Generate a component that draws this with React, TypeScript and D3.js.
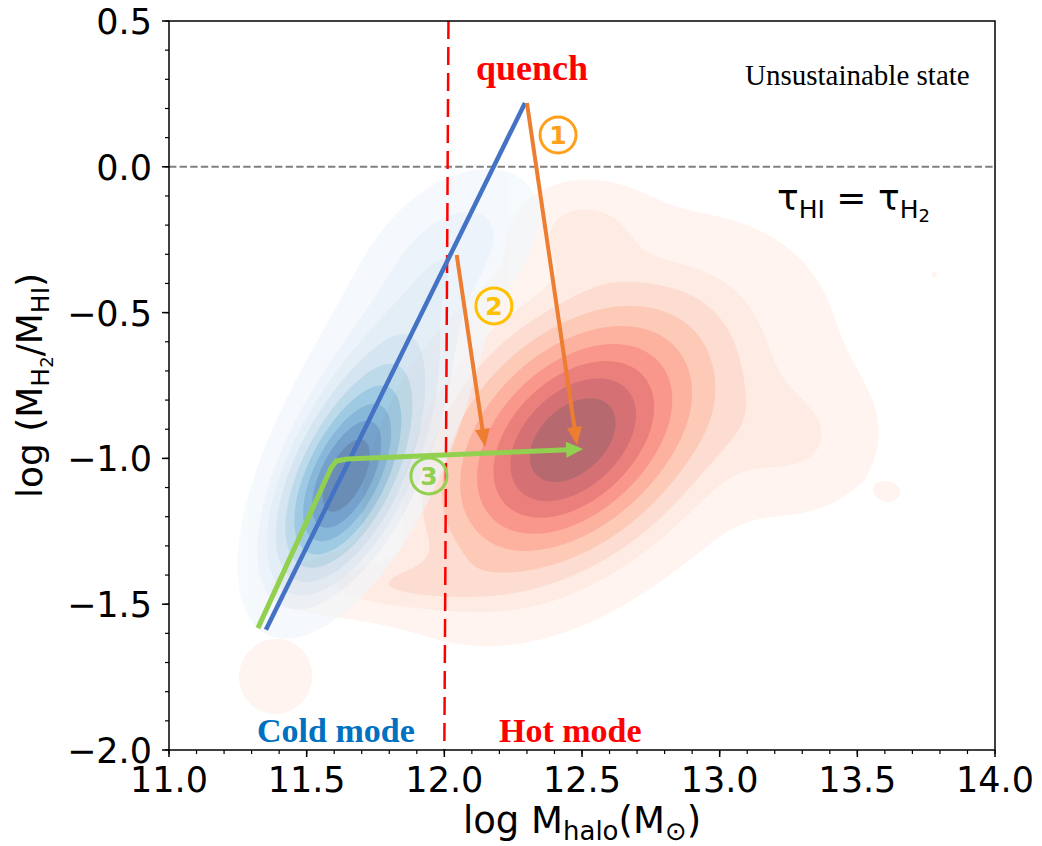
import { useEffect, useRef } from 'react'
import * as d3 from 'd3'

// density blobs: [x, y, sigmaX, sigmaY, rho, weight]
const coldBlobs = [
  [11.63, -1.09, 0.15, 0.21, 0.55, 0.56],
  [11.77, -0.78, 0.2, 0.3, 0.6, 0.32],
  [12.06, -0.26, 0.19, 0.16, 0.4, 0.08],
]
const hotBlobs = [
  [12.45, -0.955, 0.29, 0.27, 0.4, 0.72],
  [12.7, -0.74, 0.43, 0.32, 0.25, 0.2],
  [13.29, -0.94, 0.18, 0.15, 0.0, 0.03],
  [11.8, -1.434, 0.25, 0.065, 0.0, 0.025],
  [12.5, -0.217, 0.145, 0.1, 0.0, 0.02],
  [11.385, -1.75, 0.14, 0.135, 0.0, 0.012],
  [13.619, -1.119, 0.045, 0.035, 0.0, 0.0007],
  [13.78, -0.37, 0.015, 0.015, 0.0, 0.0001],
]
// iso-proportion levels (seaborn default: 10 levels, thresh 0.05)
const isoProps = [0.05, 0.1556, 0.2611, 0.3667, 0.4722, 0.5778, 0.6833, 0.7889, 0.8944, 1]

const xTicks = [11.0, 11.5, 12.0, 12.5, 13.0, 13.5, 14.0]
const yTicks = [-2.0, -1.5, -1.0, -0.5, 0.0, 0.5]

const quenchLine = [[11.352, -1.588], [12.293, 0.219]]
const greenTrack = [[11.323, -1.582], [11.5885, -1.033], [11.607, -1.009], [11.647, -1.002], [12.504, -0.968]]
const arrowOne = [[12.3, 0.219], [12.482, -0.954]]
const arrowTwo = [[12.045, -0.3025], [12.148, -0.961]]
const steps = [
  { label: '1', x: 12.413, y: 0.109, color: '#FF9F1A' },
  { label: '2', x: 12.18, y: -0.477, color: '#FFC000' },
  { label: '3', x: 11.944, y: -1.06, color: '#92D050' },
]

const SANS = 'DejaVu Sans, sans-serif'
const SERIF = 'Liberation Serif, Times New Roman, serif'

export default function App() {
  const svgRef = useRef<SVGSVGElement>(null)

  useEffect(() => {
    if (!svgRef.current) return
    const svg = d3.select(svgRef.current)
    svg.selectAll('*').remove()

    const left = 169
    const right = 995
    const top = 21
    const bottom = 750

    const x = d3.scaleLinear().domain([11, 14]).range([left, right])
    const y = d3.scaleLinear().domain([-2, 0.5]).range([bottom, top])

    svg.append('rect').attr('width', 1042).attr('height', 846).attr('fill', '#fff')

    // KDE-like filled contours
    const step = 2
    const nx = Math.ceil((right - left) / step)
    const ny = Math.ceil((bottom - top) / step)

    const density = (blobs: number[][], px: number, py: number) => {
      let s = 0
      for (const [mx, my, sx, sy, r, w] of blobs) {
        const u = (px - mx) / sx
        const v = (py - my) / sy
        const q = (u * u - 2 * r * u * v + v * v) / (1 - r * r)
        s += (w * Math.exp(-q / 2)) / (2 * Math.PI * sx * sy * Math.sqrt(1 - r * r))
      }
      return s
    }

    const path = d3.geoPath(d3.geoIdentity().scale(step).translate([left, top]))

    const drawKde = (blobs: number[][], scheme: readonly string[]) => {
      const values = new Float64Array(nx * ny)
      for (let j = 0; j < ny; j++) {
        const py = y.invert(top + (j + 0.5) * step)
        for (let i = 0; i < nx; i++) {
          const px = x.invert(left + (i + 0.5) * step)
          values[i + j * nx] = density(blobs, px, py)
        }
      }
      const sorted = Array.from(values).sort((a, b) => b - a)
      const cum = d3.cumsum(sorted)
      const total = cum[cum.length - 1]
      const levels = isoProps.map((p) => sorted[Math.min(sorted.length - 1, d3.bisectLeft(cum, (1 - p) * total))])

      const cmap = d3
        .scaleLinear<string>()
        .domain(d3.range(9).map((i) => i / 8))
        .range(scheme as string[])
      const lo = levels[0]
      const hi = levels[levels.length - 1]

      const contours = d3.contours().size([nx, ny]).thresholds(levels.slice(0, -1))(Array.from(values))
      const g = svg.append('g').attr('opacity', 0.6)
      contours.forEach((c, i) => {
        const mid = (levels[i] + levels[i + 1]) / 2
        g.append('path')
          .attr('d', path(c as any))
          .attr('fill', cmap((mid - lo) / (hi - lo)))
      })
    }

    drawKde(hotBlobs, d3.schemeReds[9])
    drawKde(coldBlobs, d3.schemeBlues[9])

    // reference lines
    svg.append('line')
      .attr('x1', left).attr('x2', right)
      .attr('y1', y(0)).attr('y2', y(0))
      .attr('stroke', '#808080').attr('stroke-width', 2)
      .attr('stroke-dasharray', '7.4 3.2')

    svg.append('line')
      .attr('x1', x(12.015)).attr('x2', x(12.0))
      .attr('y1', top).attr('y2', bottom)
      .attr('stroke', '#FF0000').attr('stroke-width', 2.5)
      .attr('stroke-dasharray', '18 8')

    const line = d3.line<number[]>().x((d) => x(d[0])).y((d) => y(d[1]))

    svg.append('path')
      .attr('d', line(quenchLine))
      .attr('fill', 'none').attr('stroke', '#4472C4').attr('stroke-width', 4.5)

    const arrow = (pts: number[][], color: string, width: number, headLen: number, headW: number) => {
      const p = pts.map((d) => [x(d[0]), y(d[1])])
      const [tx, ty] = p[p.length - 1]
      const [sx, sy] = p[p.length - 2]
      const len = Math.hypot(tx - sx, ty - sy)
      const ux = (tx - sx) / len
      const uy = (ty - sy) / len
      const bx = tx - ux * headLen
      const by = ty - uy * headLen
      const shaft = p.slice(0, -1).concat([[bx + ux * 2, by + uy * 2]])
      svg.append('path')
        .attr('d', d3.line()(shaft as [number, number][]))
        .attr('fill', 'none').attr('stroke', color).attr('stroke-width', width)
        .attr('stroke-linejoin', 'round')
      svg.append('path')
        .attr('d', `M${tx},${ty}L${bx - uy * headW / 2},${by + ux * headW / 2}L${bx + uy * headW / 2},${by - ux * headW / 2}Z`)
        .attr('fill', color)
    }

    arrow(arrowOne, '#ED7D31', 4, 18, 15)
    arrow(arrowTwo, '#ED7D31', 4, 18, 15)
    arrow(greenTrack, '#92D050', 5, 17, 16)

    steps.forEach((s) => {
      svg.append('circle')
        .attr('cx', x(s.x)).attr('cy', y(s.y)).attr('r', 18)
        .attr('fill', 'none').attr('stroke', s.color).attr('stroke-width', 3)
      svg.append('text')
        .attr('x', x(s.x)).attr('y', y(s.y) + 9)
        .attr('text-anchor', 'middle')
        .attr('font-family', SANS).attr('font-weight', 'bold').attr('font-size', 25)
        .attr('fill', s.color)
        .text(s.label)
    })

    // annotations
    svg.append('text')
      .attr('x', x(12.115)).attr('y', y(0.298))
      .attr('font-family', SERIF).attr('font-weight', 'bold').attr('font-size', 36)
      .attr('fill', '#FF0000').text('quench')

    svg.append('text')
      .attr('x', x(13.092)).attr('y', y(0.2805))
      .attr('font-family', SERIF).attr('font-size', 29)
      .attr('fill', '#000').text('Unsustainable state')

    svg.append('text')
      .attr('x', x(11.3197)).attr('y', y(-1.9726))
      .attr('font-family', SERIF).attr('font-weight', 'bold').attr('font-size', 34)
      .attr('fill', '#0070C0').text('Cold mode')

    svg.append('text')
      .attr('x', x(12.1987)).attr('y', y(-1.9726))
      .attr('font-family', SERIF).attr('font-weight', 'bold').attr('font-size', 34)
      .attr('fill', '#FF0000').text('Hot mode')

    const tau = svg.append('text')
      .attr('x', x(13.2085)).attr('y', y(-0.148))
      .attr('font-family', SANS).attr('font-size', 36).attr('fill', '#000')
    tau.append('tspan').text('τ')
    tau.append('tspan').attr('font-size', 25).attr('dy', 8).text('HI')
    tau.append('tspan').attr('dy', -8).text(' = τ')
    tau.append('tspan').attr('font-size', 25).attr('dy', 8).text('H')
    tau.append('tspan').attr('font-size', 18).attr('dy', 4).text('2')

    // frame and ticks
    svg.append('rect')
      .attr('x', left).attr('y', top)
      .attr('width', right - left).attr('height', bottom - top)
      .attr('fill', 'none').attr('stroke', '#000').attr('stroke-width', 1.5)

    const xAxis = svg.append('g').attr('transform', `translate(0,${bottom})`)
    xAxis.selectAll('line.minor').data(x.ticks(30)).join('line')
      .attr('x1', (d) => x(d)).attr('x2', (d) => x(d))
      .attr('y1', 0).attr('y2', 4).attr('stroke', '#000').attr('stroke-width', 1.2)
    xAxis.selectAll('line.major').data(xTicks).join('line')
      .attr('x1', (d) => x(d)).attr('x2', (d) => x(d))
      .attr('y1', 0).attr('y2', 7).attr('stroke', '#000').attr('stroke-width', 1.5)
    xAxis.selectAll('text').data(xTicks).join('text')
      .attr('x', (d) => x(d)).attr('y', 42)
      .attr('text-anchor', 'middle')
      .attr('font-family', SANS).attr('font-size', 35).attr('fill', '#000')
      .text((d) => d.toFixed(1))

    const yAxis = svg.append('g').attr('transform', `translate(${left},0)`)
    yAxis.selectAll('line.minor').data(y.ticks(25)).join('line')
      .attr('y1', (d) => y(d)).attr('y2', (d) => y(d))
      .attr('x1', 0).attr('x2', -4).attr('stroke', '#000').attr('stroke-width', 1.2)
    yAxis.selectAll('line.major').data(yTicks).join('line')
      .attr('y1', (d) => y(d)).attr('y2', (d) => y(d))
      .attr('x1', 0).attr('x2', -7).attr('stroke', '#000').attr('stroke-width', 1.5)
    yAxis.selectAll('text').data(yTicks).join('text')
      .attr('x', -17).attr('y', (d) => y(d) + 13)
      .attr('text-anchor', 'end')
      .attr('font-family', SANS).attr('font-size', 35).attr('fill', '#000')
      .text((d) => (d < 0 ? '\u2212' + Math.abs(d).toFixed(1) : d.toFixed(1)))

    // axis labels
    const xl = svg.append('text')
      .attr('x', (left + right) / 2).attr('y', 833)
      .attr('text-anchor', 'middle')
      .attr('font-family', SANS).attr('font-size', 37).attr('fill', '#000')
    xl.append('tspan').text('log M')
    xl.append('tspan').attr('font-size', 26).attr('dy', 7).text('halo')
    xl.append('tspan').attr('dy', -7).text('(M')
    xl.append('tspan').attr('font-size', 26).attr('dy', 7).text('\u2299')
    xl.append('tspan').attr('dy', -7).text(')')

    const yl = svg.append('text')
      .attr('transform', `translate(42,${(top + bottom) / 2}) rotate(-90)`)
      .attr('text-anchor', 'middle')
      .attr('font-family', SANS).attr('font-size', 36).attr('fill', '#000')
    yl.append('tspan').text('log (M')
    yl.append('tspan').attr('font-size', 25).attr('dy', 7).text('H')
    yl.append('tspan').attr('font-size', 18).attr('dy', 4).text('2')
    yl.append('tspan').attr('dy', -11).text('/M')
    yl.append('tspan').attr('font-size', 25).attr('dy', 7).text('HI')
    yl.append('tspan').attr('dy', -7).text(')')
  }, [])

  return (
    <svg
      ref={svgRef}
      width={1042}
      height={846}
      style={{ position: 'absolute', left: 0, top: 0, display: 'block' }}
    ></svg>
  )
}
